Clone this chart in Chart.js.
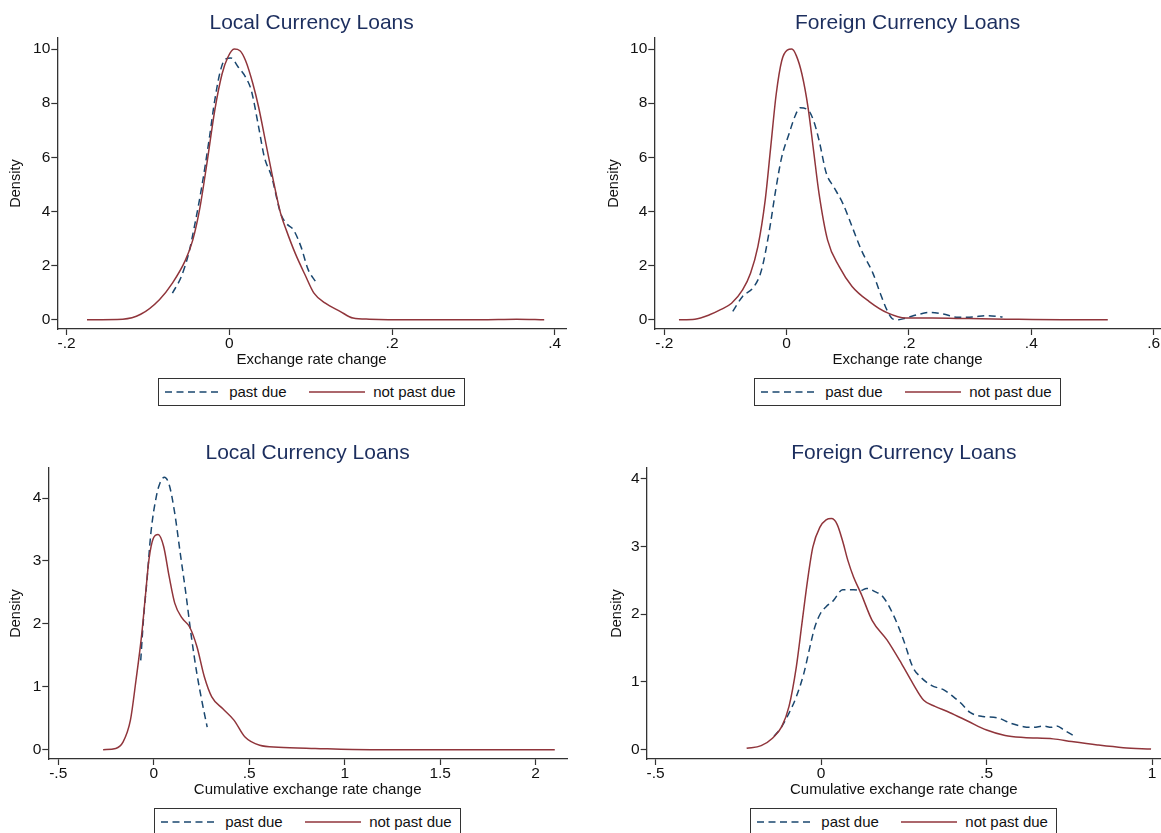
<!DOCTYPE html>
<html>
<head>
<meta charset="utf-8">
<title>Exchange rate change densities</title>
<script src="https://cdn.jsdelivr.net/npm/chart.js@4.4.1/dist/chart.umd.min.js"></script>
<style>
html, body { margin: 0; padding: 0; background: #fff; width: 1161px; height: 833px; overflow: hidden; }
canvas { position: absolute; }
.leg { position: absolute; width: 307px; height: 28px; box-sizing: border-box; border: 1.3px solid #333;
       background: #fff; font: 15px "Liberation Sans", Arial, sans-serif; color: #111; }
.leg svg { position: absolute; left: 0; top: 0; }
.leg span { position: absolute; top: 4px; line-height: 18px; white-space: nowrap; }
</style>
</head>
<body>
<script>
// valores (densidades kernel)
var titles = ["Local Currency Loans", "Foreign Currency Loans", "Local Currency Loans", "Foreign Currency Loans"];
var xTitles = ["Exchange rate change", "Exchange rate change", "Cumulative exchange rate change", "Cumulative exchange rate change"];
var seriesNames = ["past due", "not past due"];

// panel 1: moneda local, cambio
var p1PastX = [-0.070,-0.059,-0.050,-0.043,-0.034,-0.025,-0.018,-0.011,-0.005,0.002,0.011,0.020,0.027,0.036,0.043,0.052,0.063,0.070,0.079,0.088,0.097,0.106];
var p1PastY = [0.98,1.60,2.45,3.44,4.90,6.63,8.10,9.20,9.63,9.67,9.33,8.96,8.47,7.12,6.01,5.28,3.93,3.56,3.31,2.70,1.84,1.41];
var p1NotX = [-0.175,-0.131,-0.109,-0.086,-0.070,-0.054,-0.045,-0.036,-0.027,-0.018,-0.009,-0.002,0.006,0.013,0.020,0.029,0.036,0.045,0.054,0.063,0.070,0.081,0.093,0.104,0.118,0.136,0.152,0.172,0.217,0.308,0.353,0.387];
var p1NotY = [0,0.02,0.20,0.74,1.35,2.20,2.94,4.17,5.90,7.73,9.08,9.69,10.0,9.94,9.57,8.71,7.85,6.50,5.15,3.93,3.31,2.45,1.66,0.98,0.61,0.31,0.06,0.02,0,0,0.02,0];

// panel 2: moneda extranjera, cambio
var p2PastX = [-0.088,-0.072,-0.053,-0.041,-0.029,-0.017,-0.008,0.004,0.013,0.022,0.035,0.044,0.053,0.065,0.077,0.092,0.107,0.122,0.141,0.153,0.165,0.174,0.183,0.195,0.213,0.235,0.256,0.280,0.304,0.328,0.353];
var p2PastY = [0.31,0.86,1.23,1.84,3.19,4.91,6.01,6.87,7.48,7.83,7.75,7.36,6.63,5.40,4.91,4.29,3.44,2.58,1.72,0.98,0.31,0.02,0,0.06,0.18,0.27,0.21,0.09,0.10,0.15,0.10];
var p2NotX = [-0.176,-0.150,-0.126,-0.108,-0.090,-0.072,-0.059,-0.047,-0.035,-0.026,-0.017,-0.008,0.001,0.0085,0.016,0.025,0.035,0.044,0.053,0.067,0.086,0.107,0.135,0.165,0.195,0.238,0.298,0.359,0.450,0.525];
var p2NotY = [0,0.02,0.18,0.37,0.61,1.10,1.72,2.70,4.42,6.38,8.34,9.57,9.96,10.0,9.75,9.08,7.85,6.26,4.66,2.94,1.96,1.23,0.67,0.25,0.06,0.06,0.04,0.02,0,0];

// panel 3: moneda local, cambio acumulado
var p3PastX = [-0.068,-0.054,-0.035,-0.015,0.014,0.033,0.056,0.081,0.110,0.139,0.168,0.197,0.226,0.255,0.280];
var p3PastY = [1.42,2.06,2.70,3.44,4.03,4.24,4.33,4.21,3.76,3.12,2.49,1.80,1.21,0.73,0.36];
var p3NotX = [-0.265,-0.199,-0.161,-0.122,-0.093,-0.064,-0.044,-0.025,-0.002,0.023,0.052,0.081,0.110,0.149,0.188,0.226,0.265,0.304,0.362,0.420,0.478,0.555,0.652,0.845,1.135,1.520,2.100];
var p3NotY = [0,0.02,0.12,0.47,1.10,1.80,2.43,3.02,3.36,3.42,3.23,2.75,2.33,2.09,1.95,1.64,1.16,0.84,0.65,0.47,0.20,0.07,0.04,0.02,0,0,0];

// panel 4: moneda extranjera, cambio acumulado
var p4PastX = [-0.142,-0.119,-0.097,-0.075,-0.052,-0.036,-0.019,-0.002,0.015,0.037,0.065,0.098,0.121,0.137,0.160,0.188,0.221,0.249,0.277,0.299,0.333,0.372,0.400,0.422,0.450,0.489,0.533,0.573,0.612,0.640,0.673,0.695,0.712,0.734,0.762];
var p4PastY = [0.20,0.34,0.54,0.78,1.13,1.47,1.81,2.01,2.11,2.20,2.36,2.36,2.35,2.38,2.34,2.25,1.96,1.62,1.22,1.08,0.95,0.88,0.78,0.69,0.55,0.49,0.47,0.39,0.34,0.33,0.35,0.33,0.35,0.29,0.21];
var p4NotX = [-0.225,-0.181,-0.147,-0.119,-0.097,-0.075,-0.058,-0.041,-0.025,-0.004,0.015,0.031,0.048,0.065,0.081,0.098,0.121,0.154,0.199,0.243,0.277,0.310,0.344,0.388,0.444,0.500,0.556,0.612,0.701,0.757,0.835,0.913,0.997];
var p4NotY = [0.02,0.06,0.17,0.34,0.64,1.22,1.86,2.50,2.99,3.28,3.39,3.41,3.33,3.08,2.79,2.55,2.30,1.91,1.62,1.27,0.98,0.73,0.64,0.55,0.42,0.29,0.21,0.18,0.16,0.12,0.07,0.03,0.01];

// ticks
var xTicksChg = [-0.2, 0, 0.2, 0.4];
var xLabelsChg = ["-.2", "0", ".2", ".4"];
var xTicksChg2 = [-0.2, 0, 0.2, 0.4, 0.6];
var xLabelsChg2 = ["-.2", "0", ".2", ".4", ".6"];
var xTicksCum = [-0.5, 0, 0.5, 1, 1.5, 2];
var xLabelsCum = ["-.5", "0", ".5", "1", "1.5", "2"];
var xTicksCum2 = [-0.5, 0, 0.5, 1];
var xLabelsCum2 = ["-.5", "0", ".5", "1"];
var yTicksChg = [0, 2, 4, 6, 8, 10];
var yTicksCum = [0, 1, 2, 3, 4];

var navy = "#1a476f";
var maroon = "#90353b";
var FONT = '"Liberation Sans", Arial, sans-serif';
Chart.defaults.font.family = FONT;

function pts(xs, ys) {
    var out = [];
    for (var i = 0; i < xs.length; i++) out.push({x: xs[i], y: ys[i]});
    return out;
}

// layout de cada panel
var panels = [
    {left: 0,   top: 0,   width: 580, yw: 57.3, padR: 14, xmin: -0.2115, xmax: 0.4138, ymin: -0.344, ymax: 10.41,
     past: pts(p1PastX, p1PastY), not: pts(p1NotX, p1NotY), xt: xTicksChg, xl: xLabelsChg, yt: yTicksChg},
    {left: 598, top: 0,   width: 563, yw: 56.3, padR: 0,  xmin: -0.2163, xmax: 0.612, ymin: -0.344, ymax: 10.41,
     past: pts(p2PastX, p2PastY), not: pts(p2NotX, p2NotY), xt: xTicksChg2, xl: xLabelsChg2, yt: yTicksChg},
    {left: 0,   top: 430, width: 580, yw: 48.3, padR: 13, xmin: -0.552, xmax: 2.164, ymin: -0.148, ymax: 4.477,
     past: pts(p3PastX, p3PastY), not: pts(p3NotX, p3NotY), xt: xTicksCum, xl: xLabelsCum, yt: yTicksCum},
    {left: 601, top: 430, width: 560, yw: 45.7, padR: 0,  xmin: -0.527, xmax: 1.027, ymin: -0.137, ymax: 4.157,
     past: pts(p4PastX, p4PastY), not: pts(p4NotX, p4NotY), xt: xTicksCum2, xl: xLabelsCum2, yt: yTicksCum}
];

var panelTitle = {
    id: 'panelTitle',
    afterDraw: function (chart, args, opts) {
        var ctx = chart.ctx, a = chart.chartArea;
        ctx.save();
        ctx.font = '21px ' + FONT;
        ctx.fillStyle = '#1c2e5e';
        ctx.textAlign = 'center';
        ctx.textBaseline = 'middle';
        ctx.fillText(opts.text, (a.left + a.right) / 2, 23);
        ctx.restore();
    }
};

function addLegend(chart, p) {
    var a = chart.chartArea;
    var d = document.createElement('div');
    d.className = 'leg';
    d.style.left = (p.left + (a.left + a.right) / 2 - 153.5) + 'px';
    d.style.top = (p.top + 378) + 'px';
    d.innerHTML =
        '<svg width="307" height="28">' +
        '<line x1="6" y1="13" x2="62" y2="13" stroke="' + navy + '" stroke-width="1.4" stroke-dasharray="7 4.5"/>' +
        '<line x1="150" y1="13" x2="206" y2="13" stroke="' + maroon + '" stroke-width="1.4"/>' +
        '</svg>' +
        '<span style="left:70px">' + seriesNames[0] + '</span>' +
        '<span style="left:214px">' + seriesNames[1] + '</span>';
    document.body.appendChild(d);
}

panels.forEach(function (p, k) {
    var cv = document.createElement('canvas');
    cv.width = p.width;
    cv.height = 420;
    cv.style.left = p.left + 'px';
    cv.style.top = p.top + 'px';
    document.body.appendChild(cv);

    var chart = new Chart(cv.getContext('2d'), {
        type: 'line',
        data: {
            datasets: [
                {label: seriesNames[1], data: p.not, borderColor: maroon, borderWidth: 1.5},
                {label: seriesNames[0], data: p.past, borderColor: navy, borderWidth: 1.5, borderDash: [7, 4.5]}
            ]
        },
        options: {
            responsive: false,
            animation: false,
            events: [],
            layout: {autoPadding: false, padding: {left: 0, top: 38, right: p.padR, bottom: 51}},
            elements: {point: {radius: 0}, line: {cubicInterpolationMode: 'monotone', fill: false}},
            plugins: {
                legend: {display: false},
                tooltip: {enabled: false},
                panelTitle: {text: titles[k]}
            },
            scales: {
                x: {
                    type: 'linear', min: p.xmin, max: p.xmax,
                    afterBuildTicks: function (s) { s.ticks = p.xt.map(function (v) { return {value: v}; }); },
                    afterFit: function (s) { s.height = 40; },
                    ticks: {
                        callback: function (v, i) { return p.xl[i]; },
                        color: '#111', font: {size: 15.5, lineHeight: 1.1}, padding: 0,
                        maxRotation: 0, autoSkip: false
                    },
                    grid: {display: true, drawOnChartArea: false, drawTicks: true, tickLength: 6, tickColor: '#333', color: '#333', tickWidth: 1.2},
                    border: {display: true, color: '#333', width: 1.3},
                    title: {display: true, text: xTitles[k], color: '#111', font: {size: 15, lineHeight: 1.2}, padding: {top: 0, bottom: 0}}
                },
                y: {
                    type: 'linear', min: p.ymin, max: p.ymax,
                    afterBuildTicks: function (s) { s.ticks = p.yt.map(function (v) { return {value: v}; }); },
                    afterFit: function (s) { s.width = p.yw; },
                    ticks: {
                        callback: function (v) { return String(v); },
                        color: '#111', font: {size: 15.5, lineHeight: 1.2}, padding: 1, autoSkip: false
                    },
                    grid: {display: true, drawOnChartArea: false, drawTicks: true, tickLength: 6, tickColor: '#333', color: '#333', tickWidth: 1.2},
                    border: {display: true, color: '#333', width: 1.3},
                    title: {display: true, text: 'Density', color: '#111', font: {size: 14.5, lineHeight: 1.2}, padding: {top: 7.1, bottom: 0}}
                }
            }
        },
        plugins: [panelTitle]
    });
    addLegend(chart, p);
});
</script>
</body>
</html>
